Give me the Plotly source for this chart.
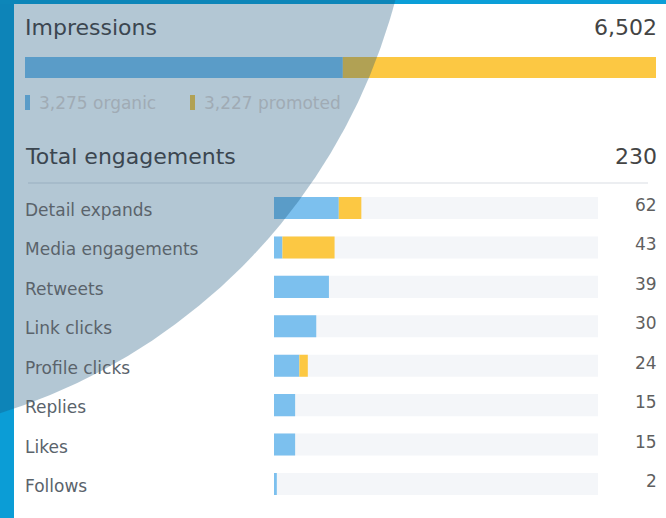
import plotly.graph_objects as go

W, H = 666, 518

# Impressions split
impr_organic = 3275
impr_promoted = 3227
impr_total = impr_organic + impr_promoted

# Engagement breakdown
categories = ["Detail expands", "Media engagements", "Retweets", "Link clicks",
              "Profile clicks", "Replies", "Likes", "Follows"]
organic = [46, 6, 39, 30, 18, 15, 15, 2]
promoted = [16, 37, 0, 0, 6, 0, 0, 0]
totals = [o + p for o, p in zip(organic, promoted)]
total_engagements = sum(totals)

BLUE = "#7cc0ee"
YELLOW = "#fcc843"
TRACK = "#f4f6f9"
FONT = "DejaVu Sans"


def px(v):
    return v / W


def py(v):
    return 1 - v / H


fig = go.Figure()

# Impressions bar (organic + promoted stacked via base)
fig.add_trace(go.Bar(x=[impr_organic], y=[0], base=[0], orientation="h", width=1,
                     marker=dict(color=BLUE, line=dict(width=0)),
                     xaxis="x", yaxis="y", hoverinfo="skip"))
fig.add_trace(go.Bar(x=[impr_promoted], y=[0], base=[impr_organic], orientation="h", width=1,
                     marker=dict(color=YELLOW, line=dict(width=0)),
                     xaxis="x", yaxis="y", hoverinfo="skip"))

# Engagement tracks and bars
fig.add_trace(go.Bar(x=[total_engagements] * len(categories), y=categories, base=[0] * len(categories),
                     orientation="h", width=0.56,
                     marker=dict(color=TRACK, line=dict(width=0)),
                     xaxis="x2", yaxis="y2", hoverinfo="skip"))
fig.add_trace(go.Bar(x=organic, y=categories, base=[0] * len(categories),
                     orientation="h", width=0.56,
                     marker=dict(color=BLUE, line=dict(width=0)),
                     xaxis="x2", yaxis="y2", hoverinfo="skip"))
fig.add_trace(go.Bar(x=promoted, y=categories, base=organic,
                     orientation="h", width=0.56,
                     marker=dict(color=YELLOW, line=dict(width=0)),
                     xaxis="x2", yaxis="y2", hoverinfo="skip"))

annotations = []


def text(x, y, s, size, color, anchor="left", yref="paper", yshift=0):
    annotations.append(dict(x=x, y=y, xref="paper", yref=yref, text=s, showarrow=False,
                            xanchor=anchor, yanchor="middle", yshift=yshift,
                            borderpad=0, borderwidth=0,
                            font=dict(family=FONT, size=size, color=color)))


# Headings
text(px(25), py(27), "Impressions", 22, "#3b4650")
text(px(657), py(27), f"{impr_total:,}", 22, "#444444", anchor="right")
text(px(39), py(103), f"{impr_organic:,} organic", 17, "#a0abb4")
text(px(204), py(103), f"{impr_promoted:,} promoted", 17, "#a0abb4")
text(px(25), py(156), "Total engagements", 22, "#3b4650")
text(px(657), py(156), f"{total_engagements}", 22, "#444444", anchor="right")

# Row labels and values
for cat, tot in zip(categories, totals):
    text(px(25), cat, cat, 17, "#5a636b", yref="y2", yshift=-2)
    text(px(657), cat, str(tot), 17, "#5f5f5f", anchor="right", yref="y2", yshift=3)

shapes = [
    # legend pills
    dict(type="rect", xref="paper", yref="paper", x0=px(25), x1=px(30), y0=py(110), y1=py(95),
         fillcolor=BLUE, line=dict(width=0), layer="above"),
    dict(type="rect", xref="paper", yref="paper", x0=px(190), x1=px(195), y0=py(110), y1=py(95),
         fillcolor=YELLOW, line=dict(width=0), layer="above"),
    # divider under total engagements
    dict(type="line", xref="paper", yref="paper", x0=px(28), x1=px(648), y0=py(183), y1=py(183),
         line=dict(color="#e6e9ec", width=1.5), layer="above"),
    # frame bands
    dict(type="rect", xref="paper", yref="paper", x0=0, x1=px(14), y0=0, y1=1,
         fillcolor="#0b9dd6", line=dict(width=0), layer="above"),
    dict(type="rect", xref="paper", yref="paper", x0=0, x1=1, y0=py(4), y1=1,
         fillcolor="#0b9fd8", line=dict(width=0), layer="above"),
    # translucent circular overlay in the top-left corner
    dict(type="circle", xref="paper", yref="paper",
         x0=px(-176 - 591), x1=px(-176 + 591), y0=py(-151 + 591), y1=py(-151 - 591),
         fillcolor="rgba(20,80,120,0.32)", line=dict(width=0), layer="above"),
]

fig.update_layout(
    width=W, height=H,
    margin=dict(l=0, r=0, t=0, b=0),
    paper_bgcolor="white", plot_bgcolor="rgba(0,0,0,0)",
    barmode="overlay", showlegend=False,
    xaxis=dict(domain=[px(25), px(656)], range=[0, impr_total], visible=False, fixedrange=True),
    yaxis=dict(domain=[py(78), py(57)], range=[-0.5, 0.5], visible=False, fixedrange=True),
    xaxis2=dict(domain=[px(274), px(598)], range=[0, total_engagements], visible=False,
                anchor="y2", fixedrange=True),
    yaxis2=dict(domain=[py(503.7), py(188.3)], type="category", categoryorder="array",
                categoryarray=categories, range=[len(categories) - 0.5, -0.5],
                visible=False, anchor="x2", fixedrange=True),
    annotations=annotations,
    shapes=shapes,
)

fig.write_html("out.html", config={"displayModeBar": False})
